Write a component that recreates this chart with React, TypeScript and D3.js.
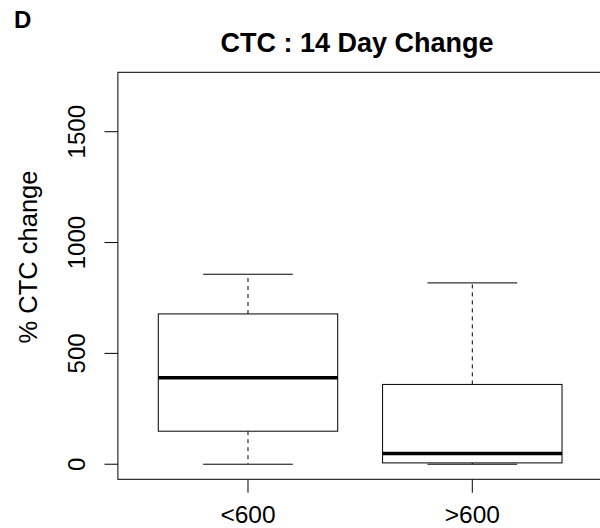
import React from "react";
import * as d3 from "d3";

const categories = ["<600", ">600"];
const whiskerLow = [0, 0];
const q1 = [149, 6];
const medians = [390, 48];
const q3 = [678, 360];
const whiskerHigh = [857, 818];
const yTicks = [0, 500, 1000, 1500];

const W = 600;
const H = 528;
const FONT = "'Liberation Sans', Arial, Helvetica, sans-serif";

export default function App() {
  // R-style extended ranges (4%)
  const x = d3.scaleLinear().domain([0.42, 2.58]).range([117.9, 602.4]);
  const yMin = 0, yMax = 1700;
  const pad = (yMax - yMin) * 0.04;
  const y = d3.scaleLinear().domain([yMin - pad, yMax + pad]).range([479.3, 72.3]);

  const left = x(0.42), right = x(2.58), top = y(yMax + pad), bottom = y(yMin - pad);
  const boxHalf = 0.4;
  const capHalf = 0.2;

  return (
    <svg width={W} height={H} style={{ position: "absolute", left: 0, top: 0, display: "block", background: "#fff" }}>
      <rect x={0} y={0} width={W} height={H} fill="#fff" />
      {categories.map((c, i) => {
        const cx = x(i + 1);
        const bl = x(i + 1 - boxHalf), br = x(i + 1 + boxHalf);
        const cl = x(i + 1 - capHalf), cr = x(i + 1 + capHalf);
        return (
          <g key={c}>
            <line x1={cx} x2={cx} y1={y(q3[i])} y2={y(whiskerHigh[i])} stroke="#000" strokeWidth={1} strokeDasharray="4,4" />
            <line x1={cx} x2={cx} y1={y(q1[i])} y2={y(whiskerLow[i])} stroke="#000" strokeWidth={1} strokeDasharray="4,4" />
            <line x1={cl} x2={cr} y1={y(whiskerHigh[i])} y2={y(whiskerHigh[i])} stroke="#000" strokeWidth={1} />
            <line x1={cl} x2={cr} y1={y(whiskerLow[i])} y2={y(whiskerLow[i])} stroke="#000" strokeWidth={1} />
            <rect x={bl} y={y(q3[i])} width={br - bl} height={y(q1[i]) - y(q3[i])} fill="#fff" stroke="#000" strokeWidth={1} />
            <line x1={bl} x2={br} y1={y(medians[i])} y2={y(medians[i])} stroke="#000" strokeWidth={3.5} />
          </g>
        );
      })}
      <rect x={left} y={top} width={right - left} height={bottom - top} fill="none" stroke="#000" strokeWidth={1} />
      {yTicks.map((t) => (
        <g key={t}>
          <line x1={left - 13.4} x2={left} y1={y(t)} y2={y(t)} stroke="#000" strokeWidth={1} />
          <text
            transform={`translate(85,${y(t)}) rotate(-90)`}
            textAnchor="middle"
            fontFamily={FONT}
            fontSize={24}
            fill="#000"
          >
            {t}
          </text>
        </g>
      ))}
      {categories.map((c, i) => (
        <g key={"x" + c}>
          <line x1={x(i + 1)} x2={x(i + 1)} y1={bottom} y2={bottom + 13.4} stroke="#000" strokeWidth={1} />
          <text x={x(i + 1)} y={523} textAnchor="middle" fontFamily={FONT} fontSize={24.5} fill="#000">
            {c}
          </text>
        </g>
      ))}
      <text
        transform={`translate(37,257) rotate(-90)`}
        textAnchor="middle"
        fontFamily={FONT}
        fontSize={25.5}
        fill="#000"
      >
        % CTC change
      </text>
      <text x={357} y={52} textAnchor="middle" fontFamily={FONT} fontSize={27} fontWeight="bold" fill="#000">
        CTC : 14 Day Change
      </text>
      <text x={14} y={28} fontFamily={FONT} fontSize={24} fontWeight="bold" fill="#000">
        D
      </text>
    </svg>
  );
}
